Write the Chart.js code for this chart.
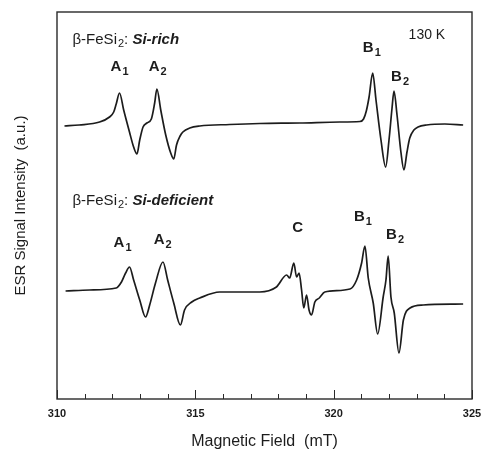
<!DOCTYPE html>
<html>
<head>
<meta charset="utf-8">
<script src="https://cdn.jsdelivr.net/npm/chart.js@4.4.0/dist/chart.umd.min.js"></script>
<style>
  html, body { margin: 0; padding: 0; background: #fff; }
</style>
</head>
<body>
<canvas id="grafico" width="485" height="451"></canvas>
<script>
// Si-rich spectrum (upper trace): magnetic field (mT) and signal (a.u.)
const fieldSiRich = [310.27, 310.80, 311.54, 311.90, 312.05, 312.14, 312.26, 312.41, 312.62, 312.77, 312.89, 312.99,
  313.11, 313.25, 313.41, 313.53, 313.61, 313.75, 313.93, 314.11, 314.22, 314.32, 314.45, 314.55,
  314.80, 315.16, 316.24, 317.33, 318.78, 320.22, 320.95, 321.08, 321.18, 321.28, 321.41,
  321.53, 321.71, 321.88, 322.00, 322.11, 322.18, 322.29, 322.43, 322.54, 322.65,
  322.75, 322.90, 323.05, 323.36, 324.02, 324.68];
const signalSiRich = [273, 274, 277, 282, 287, 295, 306, 289, 267, 252, 245, 259,
  272, 276, 280, 296, 310, 289, 264, 246, 240, 254, 263, 267,
  271, 273, 274.5, 275.5, 276, 277, 277.5, 280, 288, 302, 326,
  299, 259, 232, 259, 291, 308, 284, 247, 229, 247,
  261, 269, 272, 274, 275, 274];

// Si-deficient spectrum (lower trace)
const fieldSiDef = [310.31, 311.18, 312.14, 312.33, 312.48, 312.62, 312.77, 312.99, 313.20, 313.35,
  313.56, 313.83, 314.00, 314.22, 314.46, 314.61, 314.87, 315.16, 315.88, 317.33,
  317.93, 318.30, 318.41, 318.56, 318.66, 318.75, 318.84, 318.92, 319.02, 319.11,
  319.20, 319.32, 319.48, 319.68, 320.59, 320.83, 321.01, 321.13, 321.25, 321.43,
  321.59, 321.79, 321.89, 321.97, 322.07, 322.19, 322.36, 322.52, 322.76, 323.24,
  324.68];
const signalSiDef = [108, 109, 111, 117, 126, 132, 119, 99, 82, 94,
  116, 137, 119, 96, 74, 89, 97, 101, 107, 107,
  112, 124, 121, 136, 122, 126, 109, 91, 104, 89,
  84, 97, 101, 107, 110, 119, 136, 153, 121, 96,
  65, 102, 119, 143, 102, 86, 46, 79, 91, 94,
  95];

const xTickLabels = [310, 315, 320, 325];

// peak labels: [text, subscript, field, signal]
const peakLabels = [
  ['A', '1', 312.26, 332], ['A', '2', 313.64, 332],
  ['B', '1', 321.38, 351], ['B', '2', 322.40, 322],
  ['A', '1', 312.37, 156], ['A', '2', 313.82, 159],
  ['C', '', 318.70, 171],
  ['B', '1', 321.06, 182], ['B', '2', 322.22, 164]
];
// sample labels: [sample, field, signal]
const sampleLabels = [['Si-rich', 310.56, 359], ['Si-deficient', 310.56, 198]];

const ink = '#1c1c1c';

function drawSub(ctx, main, sub, cx, cy, font, subFont) {
  ctx.font = font;
  const w1 = ctx.measureText(main).width;
  ctx.font = subFont;
  const w2 = sub ? ctx.measureText(sub).width + 1 : 0;
  let x = cx - (w1 + w2) / 2;
  ctx.font = font;
  ctx.fillText(main, x, cy);
  if (sub) {
    ctx.font = subFont;
    ctx.fillText(sub, x + w1 + 1, cy + 5);
  }
}

const decorPlugin = {
  id: 'decor',
  afterDraw(chart) {
    const ctx = chart.ctx;
    const a = chart.chartArea;
    const xs = chart.scales.x;
    const ys = chart.scales.y;
    ctx.save();
    // frame
    ctx.strokeStyle = '#2a2a2a';
    ctx.lineWidth = 1.4;
    ctx.strokeRect(a.left, a.top, a.right - a.left, a.bottom - a.top);
    // inward ticks on the field axis
    ctx.lineWidth = 1;
    xs.ticks.forEach(t => {
      const px = Math.round(xs.getPixelForValue(t.value)) + 0.5;
      const len = xTickLabels.includes(t.value) ? 9 : 5;
      ctx.beginPath();
      ctx.moveTo(px, a.bottom);
      ctx.lineTo(px, a.bottom - len);
      ctx.stroke();
    });
    // texts
    ctx.fillStyle = ink;
    ctx.textBaseline = 'middle';
    ctx.textAlign = 'left';
    sampleLabels.forEach(([name, f, s]) => {
      let x = xs.getPixelForValue(f);
      const y = ys.getPixelForValue(s);
      ctx.font = '15px "Liberation Sans", Arial, sans-serif';
      ctx.fillText('\u03b2-FeSi', x, y);
      x += ctx.measureText('\u03b2-FeSi').width + 1;
      ctx.font = '11px "Liberation Sans", Arial, sans-serif';
      ctx.fillText('2', x, y + 4);
      x += ctx.measureText('2').width;
      ctx.font = '15px "Liberation Sans", Arial, sans-serif';
      ctx.fillText(': ', x, y);
      x += ctx.measureText(': ').width;
      ctx.font = 'italic bold 15px "Liberation Sans", Arial, sans-serif';
      ctx.fillText(name, x, y);
    });
    ctx.font = '14px "Liberation Sans", Arial, sans-serif';
    ctx.textAlign = 'center';
    ctx.fillText('130 K', xs.getPixelForValue(323.37), ys.getPixelForValue(364));
    ctx.textAlign = 'left';
    peakLabels.forEach(([m, sub, f, s]) => {
      drawSub(ctx, m, sub, xs.getPixelForValue(f), ys.getPixelForValue(s),
        'bold 15px "Liberation Sans", Arial, sans-serif',
        'bold 11px "Liberation Sans", Arial, sans-serif');
    });
    ctx.restore();
  }
};

const grafico = new Chart(document.getElementById('grafico').getContext('2d'), {
  type: 'line',
  data: {
    datasets: [
      {
        label: 'Si-rich',
        data: fieldSiRich.map((f, i) => ({ x: f, y: signalSiRich[i] })),
        borderColor: ink,
        borderWidth: 1.7,
        pointRadius: 0,
        cubicInterpolationMode: 'monotone',
        fill: false
      },
      {
        label: 'Si-deficient',
        data: fieldSiDef.map((f, i) => ({ x: f, y: signalSiDef[i] })),
        borderColor: ink,
        borderWidth: 1.7,
        pointRadius: 0,
        cubicInterpolationMode: 'monotone',
        fill: false
      }
    ]
  },
  options: {
    responsive: false,
    animation: false,
    devicePixelRatio: 1,
    layout: { padding: { top: 12, right: 13, left: 0, bottom: 0 } },
    plugins: { legend: { display: false }, tooltip: { enabled: false } },
    scales: {
      x: {
        type: 'linear',
        min: 310,
        max: 325,
        grid: { display: false },
        border: { display: false },
        ticks: {
          stepSize: 1,
          autoSkip: false,
          maxRotation: 0,
          padding: 0,
          color: ink,
          font: { size: 11, weight: 'bold', family: '"Liberation Sans", Arial, sans-serif' },
          callback: v => xTickLabels.includes(v) ? String(v) : ''
        },
        title: {
          display: true,
          text: 'Magnetic Field  (mT)',
          color: ink,
          font: { size: 16, family: '"Liberation Sans", Arial, sans-serif' },
          padding: { top: 8, bottom: 0 }
        },
        afterFit: s => { s.height = 52; }
      },
      y: {
        min: 0,
        max: 387,
        grid: { display: false },
        border: { display: false },
        ticks: { display: false },
        title: {
          display: true,
          text: 'ESR Signal Intensity  (a.u.)',
          color: ink,
          font: { size: 15, family: '"Liberation Sans", Arial, sans-serif' },
          padding: { top: 12, bottom: 0 }
        },
        afterFit: s => { s.width = 57; }
      }
    }
  },
  plugins: [decorPlugin]
});
</script>
</body>
</html>
